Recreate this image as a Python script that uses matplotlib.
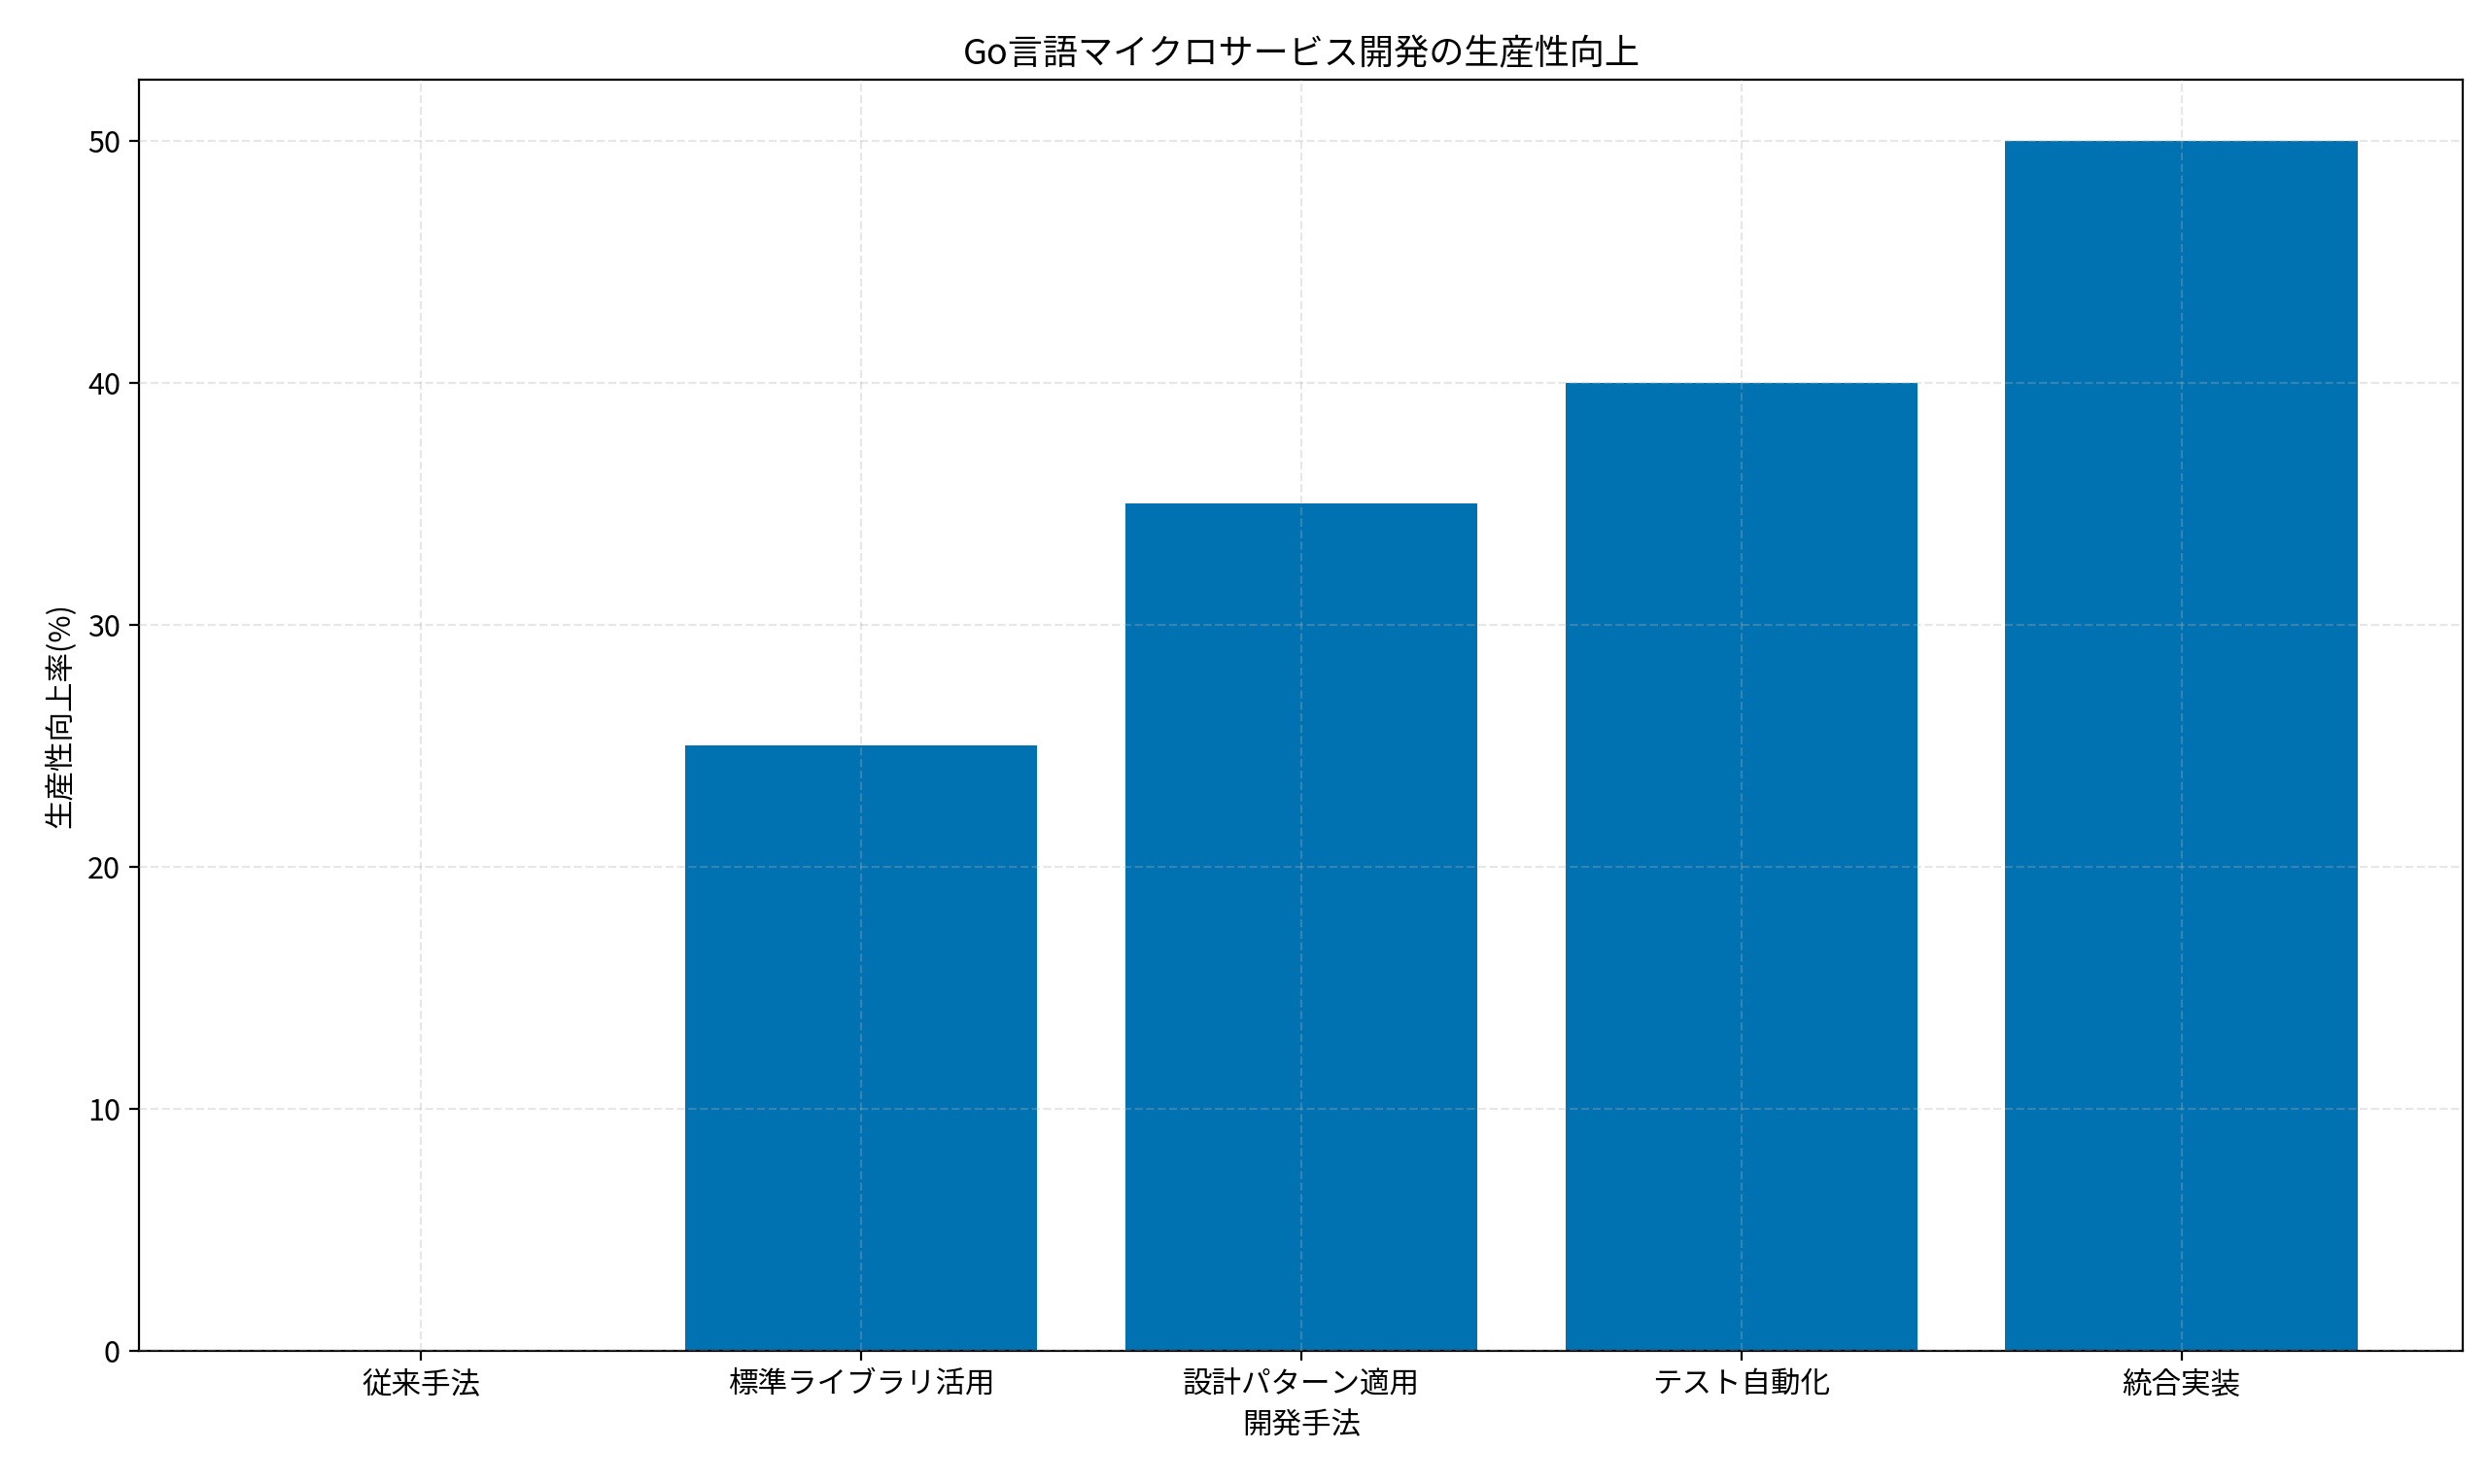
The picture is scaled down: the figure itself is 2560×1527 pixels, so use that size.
import matplotlib
matplotlib.use("Agg")
import matplotlib.pyplot as plt

plt.rcParams['font.family'] = ['Noto Sans CJK JP', 'DejaVu Sans']

categories = ['従来手法', '標準ライブラリ活用', '設計パターン適用', 'テスト自動化', '統合実装']
values = [0, 25, 35, 40, 50]

fig, ax = plt.subplots(figsize=(12.8, 7.635), dpi=200)
fig.subplots_adjust(left=0.056, right=0.99, top=0.946, bottom=0.09)
ax.bar(categories, values, color='#0072B2', width=0.8)
ax.set_axisbelow(False)
ax.grid(True, linestyle='--', alpha=0.3)
ax.set_title('Go言語マイクロサービス開発の生産性向上', fontsize=13)
ax.set_xlabel('開発手法', fontsize=11)
ax.set_ylabel('生産性向上率(%)', fontsize=11)
ax.tick_params(labelsize=11)
fig.savefig('out.png', dpi=200)
